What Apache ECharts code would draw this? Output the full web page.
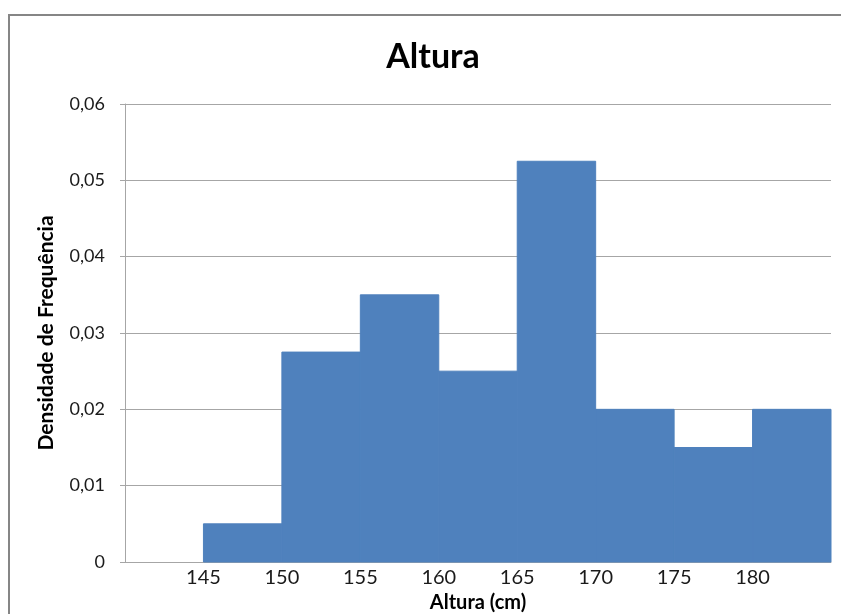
<!DOCTYPE html>
<html>
<head>
<meta charset="utf-8">
<script src="https://cdn.jsdelivr.net/npm/echarts@6/dist/echarts.min.js"></script>
<style>
html,body{margin:0;padding:0;background:#fff;}
#c{width:841px;height:614px;}
</style>
</head>
<body>
<div id="c"></div>
<script>
var binStarts = [145, 150, 155, 160, 165, 170, 175, 180];
var binWidth = 5;
var densities = [0.005, 0.0275, 0.035, 0.025, 0.0525, 0.02, 0.015, 0.02];
var xTicks = [145, 150, 155, 160, 165, 170, 175, 180];
var yTicks = [0, 0.01, 0.02, 0.03, 0.04, 0.05, 0.06];

var data = binStarts.map(function (s, i) { return [s, s + binWidth, densities[i]]; });
var font = 'Lato, "Open Sans", sans-serif';

var chart = echarts.init(document.getElementById('c'), null, {renderer: 'canvas'});
chart.setOption({
  animation: false,
  backgroundColor: '#fff',
  title: {
    text: 'Altura',
    left: 428, top: 35, textAlign: 'center',
    textStyle: {fontFamily: font, fontSize: 34, fontWeight: 'bold', color: '#000'}
  },
  graphic: [{
    type: 'rect', silent: true, z: -1,
    shape: {x: 9, y: 15, width: 1000, height: 800},
    style: {fill: 'none', stroke: '#868686', lineWidth: 2}
  }],
  grid: {left: 125, right: 10, top: 104, bottom: 52, containLabel: false, outerBoundsMode: 'none'},
  xAxis: {
    type: 'value', min: 140, max: 185, interval: 5,
    name: 'Altura (cm)', nameLocation: 'middle', nameGap: 26,
    nameTextStyle: {fontFamily: font, fontSize: 20, fontWeight: 'bold', color: '#000'},
    axisLine: {show: true, lineStyle: {color: '#a6a6a6', width: 1}},
    axisTick: {show: false},
    splitLine: {show: false},
    axisLabel: {
      fontFamily: font, fontSize: 20, color: '#1a1a1a', margin: 6,
      formatter: function (v) { return xTicks.indexOf(v) >= 0 ? String(v) : ''; }
    }
  },
  yAxis: {
    type: 'value', min: 0, max: 0.06, interval: 0.01,
    name: 'Densidade de Frequência', nameLocation: 'middle', nameGap: 68, nameRotate: 90,
    nameTextStyle: {fontFamily: font, fontSize: 21, fontWeight: 'bold', color: '#000'},
    axisLine: {show: true, lineStyle: {color: '#a6a6a6', width: 1}},
    axisTick: {show: true, length: 5, inside: false, lineStyle: {color: '#a6a6a6'}},
    splitLine: {show: true, lineStyle: {color: '#a6a6a6', width: 1}},
    axisLabel: {
      fontFamily: font, fontSize: 18, color: '#1a1a1a', margin: 20,
      formatter: function (v) {
        var t = yTicks.filter(function (k) { return Math.abs(k - v) < 1e-9; });
        if (!t.length) return '';
        return v === 0 ? '0' : v.toFixed(2).replace('.', ',');
      }
    }
  },
  series: [{
    type: 'custom',
    data: data,
    encode: {x: [0, 1], y: 2},
    renderItem: function (params, api) {
      var p0 = api.coord([api.value(0), api.value(2)]);
      var p1 = api.coord([api.value(1), 0]);
      return {
        type: 'rect',
        shape: {x: p0[0], y: p0[1], width: p1[0] - p0[0], height: p1[1] - p0[1]},
        style: {fill: '#4f81bd', stroke: '#4f81bd', lineWidth: 1}
      };
    }
  }]
});
</script>
</body>
</html>
